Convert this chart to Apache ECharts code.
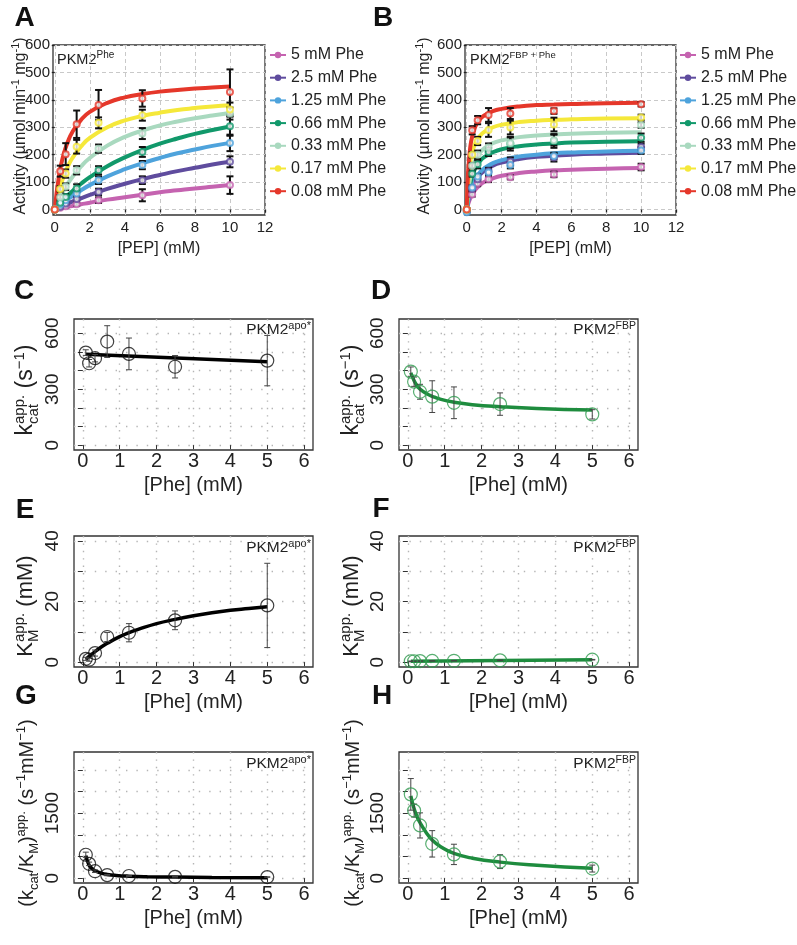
<!DOCTYPE html>
<html><head><meta charset="utf-8">
<script src="https://cdn.jsdelivr.net/npm/echarts@6/dist/echarts.min.js"></script>
<style>html,body{margin:0;padding:0;background:#fff}#c{width:797px;height:945px}</style>
</head><body><div id="c"></div><script>
const FONT = '"Liberation Sans", Arial, Helvetica, sans-serif';
const TXT = '#222';

// ===== Panels A/B : activity vs [PEP] =====
const pheLevels = ['5 mM Phe','2.5 mM Phe','1.25 mM Phe','0.66 mM Phe','0.33 mM Phe','0.17 mM Phe','0.08 mM Phe'];
const pepPts  = [0, 0.3125, 0.625, 1.25, 2.5, 5, 10];
const pepFitA = [0, 0.25, 0.5, 0.75, 1, 1.5, 2, 3, 4, 5, 6, 7, 8, 9, 10];
const pepFitB = [0, 0.05, 0.1, 0.2, 0.3, 0.5, 0.75, 1, 1.5, 2, 3, 4, 5, 6, 8, 10];
const pepTicks = [0, 2, 4, 6, 8, 10, 12];
const actTicks = [0, 100, 200, 300, 400, 500, 600];

// A fitted curves (PKM2 Phe)
const A_fit_5    = [0, 3.4, 6.8, 10, 13, 19, 25, 36, 45, 54, 63, 70, 77, 83, 89];
const A_fit_2_5  = [0, 7.5, 15, 22, 29, 41, 53, 75, 94, 111, 126, 140, 152, 164, 174];
const A_fit_1_25 = [0, 13.5, 26, 38, 49, 70, 89, 121, 147, 169, 188, 205, 219, 232, 243];
const A_fit_0_66 = [0, 18.5, 36, 52, 67, 94, 118, 158, 190, 217, 240, 259, 276, 290, 303];
const A_fit_0_33 = [0, 37, 68, 95, 118, 157, 188, 233, 265, 288, 307, 321, 333, 343, 352];
const A_fit_0_17 = [0, 69, 119, 157, 187, 230, 261, 300, 325, 341, 353, 363, 370, 376, 380];
const A_fit_0_08 = [0, 126, 200, 248, 282, 327, 356, 389, 409, 421, 430, 436, 441, 445, 449];
// A measured points and errors
const A_pts_5    = [0, 6, 12, 19, 34, 52, 89];      const A_err_5    = [3, 3, 5, 6, 10, 22, 32];
const A_pts_2_5  = [0, 10, 22, 38, 64, 107, 174];   const A_err_2_5  = [3, 4, 6, 8, 12, 14, 20];
const A_pts_1_25 = [0, 18, 34, 58, 107, 162, 243];  const A_err_1_25 = [3, 5, 8, 10, 14, 15, 30];
const A_pts_0_66 = [0, 25, 46, 77, 143, 210, 304];  const A_err_0_66 = [3, 6, 10, 15, 15, 18, 35];
const A_pts_0_33 = [0, 45, 83, 143, 222, 277, 350]; const A_err_0_33 = [3, 8, 12, 15, 15, 20, 22];
const A_pts_0_17 = [0, 75, 131, 229, 316, 344, 365];const A_err_0_17 = [3, 10, 15, 25, 20, 20, 25];
const A_pts_0_08 = [0, 140, 202, 311, 381, 405, 429];const A_err_0_08 = [3, 20, 40, 50, 55, 30, 82];

// B fitted curves (PKM2 FBP + Phe)
const B_fit_5    = [0, 12, 23, 40, 53, 73, 89, 100, 114, 123, 133, 139, 143, 145, 149, 151];
const B_fit_2_5  = [0, 18, 34, 58, 77, 104, 126, 141, 160, 171, 184, 192, 196, 200, 204, 207];
const B_fit_1_25 = [0, 20, 38, 64, 84, 112, 135, 150, 169, 180, 193, 200, 205, 208, 212, 214];
const B_fit_0_66 = [0, 32, 57, 94, 119, 152, 176, 191, 209, 220, 231, 237, 241, 244, 247, 249];
const B_fit_0_33 = [0, 41, 73, 116, 145, 181, 207, 223, 242, 252, 264, 270, 274, 276, 280, 282];
const B_fit_0_17 = [0, 68, 113, 170, 204, 243, 268, 283, 300, 309, 319, 324, 327, 329, 332, 333];
const B_fit_0_08 = [0, 99, 158, 226, 263, 304, 329, 343, 359, 367, 376, 381, 383, 385, 388, 389];
// B measured points and errors
const B_pts_5    = [0, 55, 95, 110, 118, 128, 155];  const B_err_5    = [3, 8, 10, 10, 8, 10, 12];
const B_pts_2_5  = [-5, 75, 110, 140, 175, 190, 228];const B_err_2_5  = [3, 8, 10, 12, 15, 15, 12];
const B_pts_1_25 = [-10, 80, 120, 135, 162, 195, 215];const B_err_1_25 = [3, 8, 10, 10, 12, 12, 12];
const B_pts_0_66 = [0, 130, 165, 210, 240, 250, 262]; const B_err_0_66 = [3, 10, 15, 15, 25, 25, 15];
const B_pts_0_33 = [0, 160, 200, 226, 243, 253, 308]; const B_err_0_33 = [3, 10, 15, 15, 20, 20, 10];
const B_pts_0_17 = [0, 200, 250, 290, 299, 310, 336]; const B_err_0_17 = [3, 10, 15, 25, 25, 25, 10];
const B_pts_0_08 = [0, 289, 326, 345, 350, 359, 384]; const B_err_0_08 = [3, 15, 15, 25, 20, 10, 8];

// ===== Panels C-H : kinetic parameters vs [Phe] =====
const pheConc = [0.08, 0.17, 0.33, 0.66, 1.25, 2.5, 5];
const pheTicks = [0, 1, 2, 3, 4, 5, 6];
const kcatTicks = [0, 100, 200, 300, 400, 500, 600];  const kcatLabels = [0, 300, 600];
const kmTicks = [0, 10, 20, 30, 40];                  const kmLabels = [0, 20, 40];
const effTicks = [0, 500, 1000, 1500, 2000, 2500];    const effLabels = [0, 1500];

const fitLinX = [0.08, 5];
const fitCurveX = [0.08, 0.17, 0.25, 0.33, 0.5, 0.66, 0.9, 1.25, 1.75, 2.5, 3.5, 5];
const fitKmX = [0.08, 0.17, 0.33, 0.5, 0.66, 1, 1.25, 1.5, 2, 2.5, 3, 3.5, 4, 4.5, 5];

const kcatApo = [496, 439, 466, 555, 489, 420, 453];    const kcatApoErr = [15, 20, 20, 85, 85, 60, 135];
const kcatApoFit = [487, 447];
const kcatFbp = [394, 340, 286, 260, 227, 220, 165];    const kcatFbpErr = [25, 25, 40, 85, 85, 60, 25];
const kcatFbpFit = [388, 345, 318, 300, 277, 262, 245, 230, 217, 206, 196, 188];
const kmApo = [1.1, 0.8, 3.0, 8.3, 9.7, 13.8, 18.7];    const kmApoErr = [0.5, 0.5, 1, 1.5, 3, 3.1, 13.9];
const kmApoFit = [0.95, 1.9, 3.5, 5.0, 6.2, 8.4, 9.7, 10.8, 12.7, 14.1, 15.3, 16.3, 17.1, 17.7, 18.3];
const kmFbp = [0.3, 0.3, 0.35, 0.4, 0.45, 0.6, 0.8];    const kmFbpErr = [0.05, 0.05, 0.05, 0.05, 0.05, 0.1, 0.1];
const kmFbpFit = [0.3, 0.75];
const effApo = [540, 330, 160, 70, 50, 30, 25];         const effApoErr = [60, 40, 30, 15, 10, 5, 5];
const effApoFit = [520, 300, 220, 170, 115, 85, 62, 45, 33, 24, 17, 12];
const effFbp = [1934, 1560, 1217, 792, 548, 381, 221];  const effFbpErr = [365, 150, 290, 305, 235, 160, 80];
const effFbpFit = [1900, 1600, 1420, 1280, 1050, 880, 720, 570, 460, 370, 300, 230];

// ===== styles =====
const pheColors = ['#c563b0', '#5f4c9e', '#4ea3dc', '#11996b', '#a9d9bf', '#f5e83a', '#e5372a'];
const greenPt = '#2e9a4e', greenLine = '#1e8c3e';

const A_fits = [A_fit_5, A_fit_2_5, A_fit_1_25, A_fit_0_66, A_fit_0_33, A_fit_0_17, A_fit_0_08];
const A_pts  = [A_pts_5, A_pts_2_5, A_pts_1_25, A_pts_0_66, A_pts_0_33, A_pts_0_17, A_pts_0_08];
const A_errs = [A_err_5, A_err_2_5, A_err_1_25, A_err_0_66, A_err_0_33, A_err_0_17, A_err_0_08];
const B_fits = [B_fit_5, B_fit_2_5, B_fit_1_25, B_fit_0_66, B_fit_0_33, B_fit_0_17, B_fit_0_08];
const B_pts  = [B_pts_5, B_pts_2_5, B_pts_1_25, B_pts_0_66, B_pts_0_33, B_pts_0_17, B_pts_0_08];
const B_errs = [B_err_5, B_err_2_5, B_err_1_25, B_err_0_66, B_err_0_33, B_err_0_17, B_err_0_08];

// ===== helpers =====
const ctx2d = document.createElement('canvas').getContext('2d');
function textW(t, fs) { ctx2d.font = fs + 'px ' + FONT; return ctx2d.measureText(t).width; }
// segs: [text, fontSize, raise(px, baseline up), stackWithPrevious]
function composite(segs, x, y, align, rotation, color) {
  let pos = 0, lastStart = 0; const items = [];
  segs.forEach(s => {
    const t = s[0], fs = s[1], up = s[2] || 0, stack = s[3];
    const w = textW(t, fs);
    const start = stack ? lastStart : pos;
    if (!stack) lastStart = start;
    pos = Math.max(pos, start + w);
    items.push({t, fs, up, start});
  });
  const W = pos;
  const off = align === 'right' ? -W : (align === 'center' ? -W / 2 : 0);
  return {type: 'group', x, y, rotation: rotation || 0, silent: true,
    children: items.map(it => ({type: 'text', x: it.start + off, y: -it.up - 0.35 * it.fs,
      style: {text: it.t, fontSize: it.fs, fontFamily: FONT, fill: color || TXT, align: 'left', verticalAlign: 'middle'}}))};
}
function yName(segs, cx, cy, fsMain) { return composite(segs, cx + 0.35 * fsMain, cy, 'center', Math.PI / 2); }
function letter(t, cx, cy) {
  return {type: 'text', x: cx, y: cy, silent: true, style: {text: t, fontSize: 28, fontWeight: 'bold', fontFamily: FONT, fill: '#111', align: 'center', verticalAlign: 'middle'}};
}

function errSeries(gi, xs, ys, es, color, width, cap, z) {
  return {type: 'custom', xAxisIndex: gi, yAxisIndex: gi, silent: true, z: z, clip: true,
    data: xs.map((x, i) => [x, ys[i], es[i]]),
    encode: {x: 0, y: 1},
    renderItem: (params, api) => {
      const x = api.value(0), y = api.value(1), e = api.value(2);
      const t = api.coord([x, y + e]), b = api.coord([x, y - e]);
      const st = {stroke: color, lineWidth: width, fill: null};
      return {type: 'group', children: [
        {type: 'line', shape: {x1: t[0], y1: t[1], x2: b[0], y2: b[1]}, style: st},
        {type: 'line', shape: {x1: t[0] - cap, y1: t[1], x2: t[0] + cap, y2: t[1]}, style: st},
        {type: 'line', shape: {x1: b[0] - cap, y1: b[1], x2: b[0] + cap, y2: b[1]}, style: st}]};
    }};
}

const grids = [
  {left: 53, top: 45, width: 212, height: 170},
  {left: 465, top: 45, width: 211, height: 170},
  {left: 74, top: 319, width: 239, height: 131},
  {left: 399, top: 319, width: 239, height: 131},
  {left: 74, top: 536, width: 239, height: 131},
  {left: 399, top: 536, width: 239, height: 131},
  {left: 74, top: 752, width: 239, height: 131},
  {left: 399, top: 752, width: 239, height: 131}
].map(g => Object.assign({show: true, borderColor: '#333', borderWidth: 1.3, backgroundColor: 'transparent'}, g));

const plain = v => String(v);
const xAxes = [], yAxes = [];
function abAxes(gi) {
  xAxes.push({gridIndex: gi, type: 'value', min: -0.1, max: 12,
    axisLine: {show: false},
    axisTick: {show: true, inside: false, length: 3, customValues: pepTicks, lineStyle: {color: '#222', width: 1.3}},
    axisLabel: {customValues: pepTicks, formatter: plain, fontSize: 15, fontFamily: FONT, color: TXT, margin: 5},
    splitLine: {show: true, lineStyle: {color: '#c9c9c9', width: 1, type: [4, 3]}},
    name: '[PEP] (mM)', nameLocation: 'middle', nameGap: 26, nameTextStyle: {fontSize: 16, fontFamily: FONT, color: TXT}});
  yAxes.push({gridIndex: gi, type: 'value', min: -20, max: 600,
    axisLine: {show: false},
    axisTick: {show: true, inside: false, length: 3, customValues: actTicks, lineStyle: {color: '#222', width: 1.3}},
    axisLabel: {customValues: actTicks, formatter: plain, fontSize: 15, fontFamily: FONT, color: TXT, margin: 3},
    splitLine: {show: true, lineStyle: {color: '#c9c9c9', width: 1, type: [4, 3]}}});
}
function parAxes(gi, ymin, ymax, ticks, labels) {
  xAxes.push({gridIndex: gi, type: 'value', min: -0.24, max: 6.24,
    axisLine: {show: false},
    axisTick: {show: true, inside: false, length: 4, customValues: pheTicks, lineStyle: {color: '#333', width: 1}},
    axisLabel: {customValues: pheTicks, formatter: plain, fontSize: 20, fontFamily: FONT, color: TXT, margin: 1},
    splitLine: {show: true, lineStyle: {color: '#b5b5b5', width: 1.4, type: [1.4, 6]}},
    name: '[Phe] (mM)', nameLocation: 'middle', nameGap: 25, nameTextStyle: {fontSize: 20, fontFamily: FONT, color: TXT}});
  yAxes.push({gridIndex: gi, type: 'value', min: ymin, max: ymax,
    axisLine: {show: false},
    axisTick: {show: true, inside: false, length: 5, customValues: ticks, lineStyle: {color: '#333', width: 1}},
    axisLabel: {customValues: labels, formatter: plain, rotate: 90, fontSize: 19, fontFamily: FONT, color: TXT, margin: 12},
    splitLine: {show: true, lineStyle: {color: '#b5b5b5', width: 1.4, type: [1.4, 9]}}});
}
abAxes(0); abAxes(1);
parAxes(2, -26, 676, kcatTicks, kcatLabels);
parAxes(3, -26, 676, kcatTicks, kcatLabels);
parAxes(4, -1.6, 41.6, kmTicks, kmLabels);
parAxes(5, -1.6, 41.6, kmTicks, kmLabels);
parAxes(6, -112, 2912, effTicks, effLabels);
parAxes(7, -112, 2912, effTicks, effLabels);

const series = [];
function abPanel(gi, fitX, fits, pts, errs) {
  fits.forEach((f, i) => series.push({type: 'line', name: pheLevels[i], xAxisIndex: gi, yAxisIndex: gi, z: 2,
    data: fitX.map((x, k) => [x, f[k]]), smooth: true, showSymbol: false,
    symbol: 'circle', symbolSize: 8, clip: true,
    lineStyle: {color: pheColors[i], width: 4}, itemStyle: {color: pheColors[i]}}));
  errs.forEach((e, i) => series.push(errSeries(gi, pepPts, pts[i], e, '#111', 2, 3.5, 3)));
  pts.forEach((p, i) => series.push({type: 'scatter', name: pheLevels[i], xAxisIndex: gi, yAxisIndex: gi, z: 4,
    data: pepPts.map((x, k) => [x, p[k]]), symbol: 'emptyCircle', symbolSize: 6,
    itemStyle: {color: pheColors[i], borderWidth: 1.8}}));
}
abPanel(0, pepFitA, A_fits, A_pts, A_errs);
abPanel(1, pepFitB, B_fits, B_pts, B_errs);

function parPanel(gi, ys, es, fx, fy, ptColor, lineColor) {
  series.push({type: 'line', xAxisIndex: gi, yAxisIndex: gi, z: 2, data: fx.map((x, k) => [x, fy[k]]),
    smooth: true, showSymbol: false, lineStyle: {color: lineColor, width: 3.5}});
  series.push(errSeries(gi, pheConc, ys, es, '#444', 1, 3, 3));
  series.push({type: 'scatter', xAxisIndex: gi, yAxisIndex: gi, z: 4, data: pheConc.map((x, k) => [x, ys[k]]),
    symbol: 'circle', symbolSize: 13, itemStyle: {color: 'rgba(0,0,0,0)', borderColor: ptColor, borderWidth: 1.2}});
}
parPanel(2, kcatApo, kcatApoErr, fitLinX, kcatApoFit, '#111', '#000');
parPanel(3, kcatFbp, kcatFbpErr, fitCurveX, kcatFbpFit, greenPt, greenLine);
parPanel(4, kmApo, kmApoErr, fitKmX, kmApoFit, '#111', '#000');
parPanel(5, kmFbp, kmFbpErr, fitLinX, kmFbpFit, greenPt, greenLine);
parPanel(6, effApo, effApoErr, fitCurveX, effApoFit, '#111', '#000');
parPanel(7, effFbp, effFbpErr, fitCurveX, effFbpFit, greenPt, greenLine);

const legendBase = {orient: 'vertical', padding: 0, itemWidth: 16, itemHeight: 8, itemGap: 6.7, selectedMode: false,
  data: pheLevels, textStyle: {fontSize: 16, fontFamily: FONT, color: TXT}};

const R = 326;
const graphics = [
  letter('A', 24.5, 18), letter('B', 383, 18),
  letter('C', 24, 291), letter('D', 381, 291),
  letter('E', 25, 510), letter('F', 381, 509),
  letter('G', 26, 696), letter('H', 382, 696),
  composite([['PKM2', 14.5], ['Phe', 10, 6]], 57, 65, 'left'),
  composite([['PKM2', 14.5], ['FBP + Phe', 9.5, 6]], 470, 65, 'left'),
  composite([['PKM2', 15.5], ['apo*', 11, 5]], 311, 335, 'right'),
  composite([['PKM2', 15.5], ['FBP', 10.5, 5]], 636, 335, 'right'),
  composite([['PKM2', 15.5], ['apo*', 11, 5]], 311, 553, 'right'),
  composite([['PKM2', 15.5], ['FBP', 10.5, 5]], 636, 553, 'right'),
  composite([['PKM2', 15.5], ['apo*', 11, 5]], 311, 769, 'right'),
  composite([['PKM2', 15.5], ['FBP', 10.5, 5]], 636, 769, 'right'),
  yName([['Activity (\u00b5mol min', 16], ['-1', 11, 7], [' mg', 16], ['-1', 11, 7], [')', 16]], 21, 126, 16),
  yName([['Activity (\u00b5mol min', 16], ['-1', 11, 7], [' mg', 16], ['-1', 11, 7], [')', 16]], 425, 126, 16)
];
const kcatName = [['k', 23], ['app.', 15, 9], ['cat', 15, -5, true], [' (s', 23], ['\u22121', 15, 9], [')', 23]];
const kmName = [['K', 22], ['app.', 15, 9], ['M', 15, -5, true], [' (mM)', 22]];
const effName = [['(k', 20], ['cat', 13, -5], ['/K', 20], ['M', 13, -5], [')', 20], ['app.', 13, 8], [' (s', 20], ['\u22121', 13, 8], ['mM', 20], ['\u22121', 13, 8], [')', 20]];
graphics.push(yName(kcatName, 26, 390, 23), yName(kcatName, 26 + R, 390, 23));
graphics.push(yName(kmName, 26, 606, 22), yName(kmName, 26 + R, 606, 22));
graphics.push(yName(effName, 27, 813, 20), yName(effName, 27 + R, 813, 20));

const chart = echarts.init(document.getElementById('c'), null, {renderer: 'canvas'});
chart.setOption({
  animation: false,
  backgroundColor: '#fff',
  textStyle: {fontFamily: FONT},
  grid: grids, xAxis: xAxes, yAxis: yAxes,
  legend: [Object.assign({left: 269, top: 47}, legendBase), Object.assign({left: 679, top: 47}, legendBase)],
  series: series,
  graphic: graphics
});
</script></body></html>
